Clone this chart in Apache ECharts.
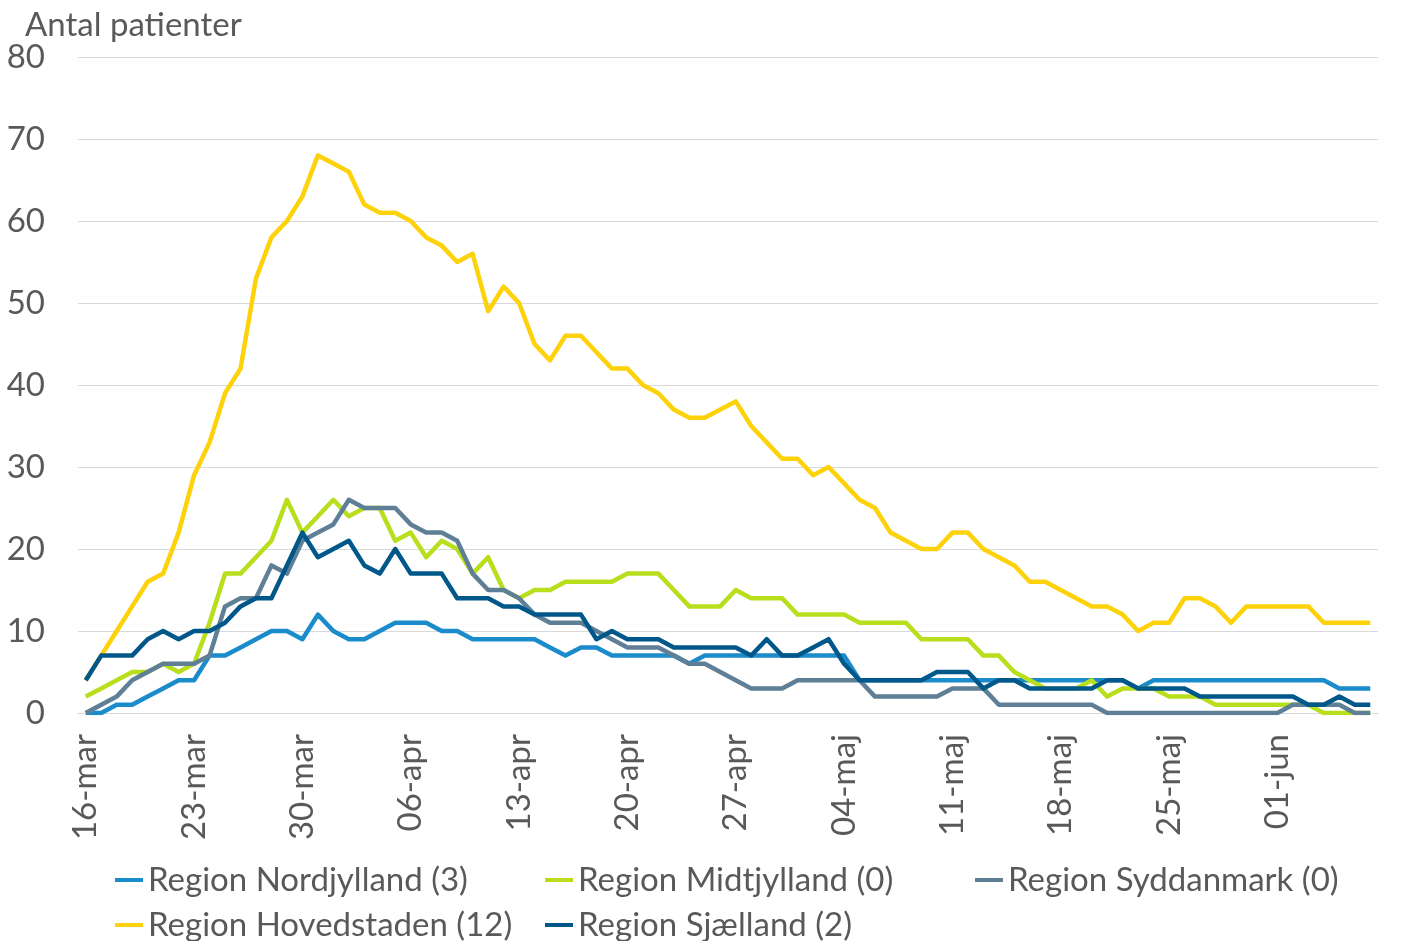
<!DOCTYPE html>
<html>
<head>
<meta charset="utf-8">
<script src="https://cdn.jsdelivr.net/npm/echarts@6.0.0/dist/echarts.min.js"></script>
<style>
html,body{margin:0;padding:0;background:#fff;}
#chart{width:1418px;height:941px;}
</style>
</head>
<body>
<div id="chart"></div>
<script>
const categories = [
 "16-mar","17-mar","18-mar","19-mar","20-mar","21-mar","22-mar","23-mar","24-mar","25-mar","26-mar","27-mar","28-mar","29-mar","30-mar","31-mar",
 "01-apr","02-apr","03-apr","04-apr","05-apr","06-apr","07-apr","08-apr","09-apr","10-apr","11-apr","12-apr","13-apr","14-apr","15-apr","16-apr","17-apr","18-apr","19-apr","20-apr","21-apr","22-apr","23-apr","24-apr","25-apr","26-apr","27-apr","28-apr","29-apr","30-apr",
 "01-maj","02-maj","03-maj","04-maj","05-maj","06-maj","07-maj","08-maj","09-maj","10-maj","11-maj","12-maj","13-maj","14-maj","15-maj","16-maj","17-maj","18-maj","19-maj","20-maj","21-maj","22-maj","23-maj","24-maj","25-maj","26-maj","27-maj","28-maj","29-maj","30-maj","31-maj",
 "01-jun","02-jun","03-jun","04-jun","05-jun","06-jun","07-jun"
];

const nordjylland = [0,0,1,1,2,3,4,4,7,7,8,9,10,10,9,12,10,9,9,10,11,11,11,10,10,9,9,9,9,9,8,7,8,8,7,7,7,7,7,6,7,7,7,7,7,7,7,7,7,7,4,4,4,4,4,4,4,4,4,4,4,4,4,4,4,4,4,4,3,4,4,4,4,4,4,4,4,4,4,4,4,3,3,3];
const midtjylland = [2,3,4,5,5,6,5,6,11,17,17,19,21,26,22,24,26,24,25,25,21,22,19,21,20,17,19,15,14,15,15,16,16,16,16,17,17,17,15,13,13,13,15,14,14,14,12,12,12,12,11,11,11,11,9,9,9,9,7,7,5,4,3,3,3,4,2,3,3,3,2,2,2,1,1,1,1,1,1,1,0,0,0,0];
const syddanmark = [0,1,2,4,5,6,6,6,7,13,14,14,18,17,21,22,23,26,25,25,25,23,22,22,21,17,15,15,14,12,11,11,11,10,9,8,8,8,7,6,6,5,4,3,3,3,4,4,4,4,4,2,2,2,2,2,3,3,3,1,1,1,1,1,1,1,0,0,0,0,0,0,0,0,0,0,0,0,1,1,1,1,0,0];
const hovedstaden = [4,7,10,13,16,17,22,29,33,39,42,53,58,60,63,68,67,66,62,61,61,60,58,57,55,56,49,52,50,45,43,46,46,44,42,42,40,39,37,36,36,37,38,35,33,31,31,29,30,28,26,25,22,21,20,20,22,22,20,19,18,16,16,15,14,13,13,12,10,11,11,14,14,13,11,13,13,13,13,13,11,11,11,11];
const sjaelland = [4,7,7,7,9,10,9,10,10,11,13,14,14,18,22,19,20,21,18,17,20,17,17,17,14,14,14,13,13,12,12,12,12,9,10,9,9,9,8,8,8,8,8,7,9,7,7,8,9,6,4,4,4,4,4,5,5,5,3,4,4,3,3,3,3,3,4,4,3,3,3,3,2,2,2,2,2,2,2,1,1,2,1,1];

const seriesNames = ["Region Nordjylland (3)","Region Midtjylland (0)","Region Syddanmark (0)","Region Hovedstaden (12)","Region Sjælland (2)"];
const seriesColors = ["#1a8bcb","#b8de1c","#5f7f96","#fdd20a","#00588a"];
const seriesData = [nordjylland, midtjylland, syddanmark, hovedstaden, sjaelland];
const yTicks = [0,10,20,30,40,50,60,70,80];

const FONT = "Lato";
const TXT = "#595959";
const FS = 33;

const chart = echarts.init(document.getElementById('chart'), null, {renderer:'canvas'});
const legendText = {color: TXT, fontFamily: FONT, fontSize: FS, lineHeight: 40};
const legendPos = [[110,855],[540,855],[970,855],[110,900],[540,900]];
const legends = seriesNames.map((n, k) => ({
  orient: 'horizontal', icon: 'rect', itemWidth: 28, itemHeight: 4,
  textStyle: legendText, selectedMode: false,
  left: legendPos[k][0], top: legendPos[k][1], data: [n]
}));
chart.setOption({
  animation: false,
  backgroundColor: '#fff',
  title: {text: 'Antal patienter', left: 20, top: 4, textStyle: {color: TXT, fontFamily: FONT, fontSize: FS, fontWeight: 'normal'}},
  legend: legends,
  grid: {left: 78, top: 57, width: 1300, height: 656, containLabel: false},
  xAxis: {
    type: 'category', data: categories, boundaryGap: true,
    axisLine: {show: true, lineStyle: {color: '#d9d9d9', width: 1}},
    axisTick: {show: false},
    axisLabel: {interval: 6, rotate: 90, margin: 21, color: TXT, fontFamily: FONT, fontSize: FS}
  },
  yAxis: {
    type: 'value', min: yTicks[0], max: yTicks[yTicks.length-1], interval: yTicks[1]-yTicks[0],
    axisLine: {show: false}, axisTick: {show: false},
    splitLine: {lineStyle: {color: '#d9d9d9', width: 1}},
    axisLabel: {margin: 33, color: TXT, fontFamily: FONT, fontSize: FS}
  },
  series: seriesData.map((d, k) => ({
    name: seriesNames[k], type: 'line', data: d, showSymbol: false, symbol: 'none',
    lineStyle: {color: seriesColors[k], width: 4.5, join: 'round'},
    itemStyle: {color: seriesColors[k]},
    emphasis: {disabled: true}
  }))
});
</script>
</body>
</html>
